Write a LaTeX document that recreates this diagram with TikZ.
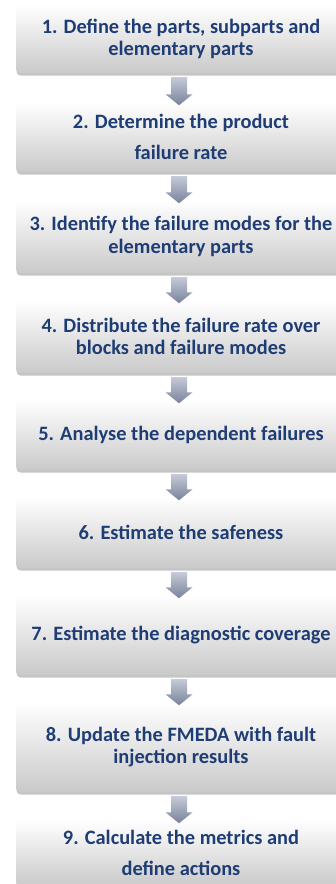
\documentclass[tikz,border=0pt]{standalone}
\usepackage{fontspec}
\setmainfont{Carlito}
\usetikzlibrary{calc,shadows}
\definecolor{stepink}{RGB}{31,61,117}
\definecolor{arrowtop}{RGB}{196,202,216}
\definecolor{arrowbot}{RGB}{120,130,154}
\tikzset{
  stepbox/.style={rectangle, rounded corners=4pt, minimum width=330pt,
    top color=white, bottom color=black!21, draw=none,
    drop shadow={shadow xshift=0.6pt, shadow yshift=-2.6pt, opacity=0.32, fill=black!70},
    text=stepink, font=\bfseries\fontsize{20.4}{22.5}\selectfont, align=center, inner sep=0pt},
  widebox/.style={font=\bfseries\fontsize{20.4}{30.5}\selectfont},
  arrowshade/.style={top color=arrowtop, bottom color=arrowbot, draw=none}
}
% block arrow running from the bottom of #1 down to the top of #2
\newcommand\flowarrow[2]{%
  \path[arrowshade] let \p1=($(#1.south)+(-2pt,-4pt)$), \p2=($(#2.north)+(-2pt,-3.5pt)$) in
    (\x1-8pt,\y1) -- (\x1+8pt,\y1) -- (\x1+8pt,\y2+11pt) -- (\x1+13.5pt,\y2+11pt)
    -- (\x1,\y2) -- (\x1-13.5pt,\y2+11pt) -- (\x1-8pt,\y2+11pt) -- cycle;}
\begin{document}
\begin{tikzpicture}[x=1pt,y=-1pt]
\useasboundingbox (0,0) rectangle (336,884);
\fill[white] (0,0) rectangle (336,884);
\clip (0,0) rectangle (336,884);
\node[stepbox, minimum height=68pt] (s1) at (181,39) {1. Define the parts, subparts and\\elementary parts};
\node[stepbox, widebox, minimum height=70pt] (s2) at (181,137) {2. Determine the product\\failure rate};
\node[stepbox, minimum height=73pt] (s3) at (181,236.5) {3. Identify the failure modes for the\\elementary parts};
\node[stepbox, minimum height=73pt] (s4) at (181,336.5) {4. Distribute the failure rate over\\blocks and failure modes};
\node[stepbox, minimum height=70pt] (s5) at (181,435) {5. Analyse the dependent failures};
\node[stepbox, minimum height=71pt] (s6) at (181,532.5) {6. Estimate the safeness};
\node[stepbox, minimum height=80pt] (s7) at (181,635) {7. Estimate the diagnostic coverage};
\node[stepbox, minimum height=90pt] (s8) at (181,747) {8. Update the FMEDA with fault\\injection results};
\node[stepbox, widebox, minimum height=66pt] (s9) at (181,853) {9. Calculate the metrics and\\define actions};
\flowarrow{s1}{s2}
\flowarrow{s2}{s3}
\flowarrow{s3}{s4}
\flowarrow{s4}{s5}
\flowarrow{s5}{s6}
\flowarrow{s6}{s7}
\flowarrow{s7}{s8}
\flowarrow{s8}{s9}
\end{tikzpicture}
\end{document}
